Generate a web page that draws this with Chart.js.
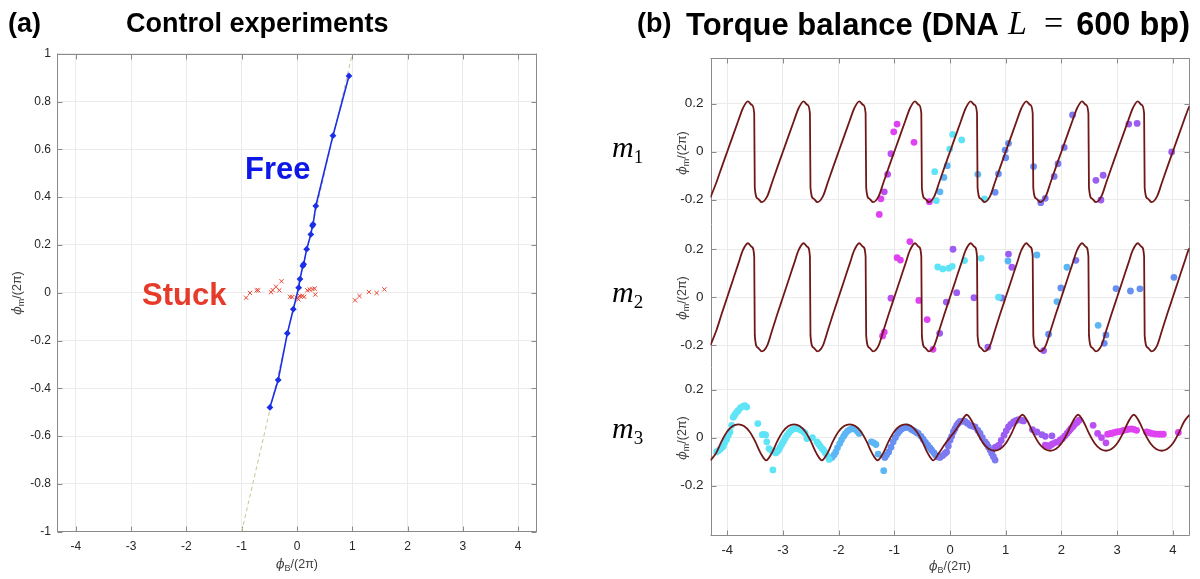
<!DOCTYPE html>
<html>
<head>
<meta charset="utf-8">
<script src="https://cdn.jsdelivr.net/npm/chart.js@4/dist/chart.umd.min.js"></script>
<style>
html, body { margin: 0; padding: 0; background: #fff; }
#fig { position: relative; width: 1200px; height: 579px; overflow: hidden; font-family: 'Liberation Sans', Arial, sans-serif; }
canvas { position: absolute; top: 0; }
.t { position: absolute; white-space: nowrap; line-height: 1; }
.title { font-weight: bold; font-size: 27px; color: #000; }
.big { font-size: 31px; }
.ax { font-size: 12.5px; color: #404040; }
.ax i { font-family: 'DejaVu Serif', serif; }
.ax sub { font-size: 9px; vertical-align: -3px; }
.rot { transform: translate(-50%, -50%) rotate(-90deg); }
.cx { transform: translate(-50%, -50%); }
.m { font-family: 'Liberation Serif', serif; font-size: 30px; font-style: italic; }
.m sub { font-style: normal; font-size: 19px; vertical-align: -6px; }
.tex { font-family: 'Liberation Serif', serif; font-weight: normal; font-size: 34px; color: #000; }
</style>
</head>
<body>
<div id="fig">
  <canvas id="left" width="600" height="579" style="left:0"></canvas>
  <canvas id="m1" width="600" height="579" style="left:600px"></canvas>
  <canvas id="m2" width="600" height="579" style="left:600px"></canvas>
  <canvas id="m3" width="600" height="579" style="left:600px"></canvas>

  <div class="t title" style="left:8px;top:10px">(a)</div>
  <div class="t title" style="left:126px;top:10px">Control experiments</div>
  <div class="t title" style="left:637px;top:10px">(b)</div>
  <div class="t title big" style="left:686px;top:9px">Torque balance (DNA</div>
  <div class="t tex" style="left:1008px;top:6px;font-style:italic">L</div>
  <div class="t tex" style="left:1044px;top:6px">=</div>
  <div class="t title big" style="right:10px;top:9px;font-size:32.5px;top:8px">600 bp)</div>

  <div class="t" style="left:245px;top:153px;font-weight:bold;font-size:31px;color:#0c17e8">Free</div>
  <div class="t" style="left:142px;top:279px;font-weight:bold;font-size:31px;color:#e63b2b">Stuck</div>

  <div class="t ax rot" style="left:18px;top:293px"><i>ϕ</i><sub>m</sub>/(2π)</div>
  <div class="t ax cx" style="left:297px;top:565px"><i>ϕ</i><sub>B</sub>/(2π)</div>
  <div class="t ax rot" style="left:683px;top:153px"><i>ϕ</i><sub>m</sub>/(2π)</div>
  <div class="t ax rot" style="left:683px;top:298px"><i>ϕ</i><sub>m</sub>/(2π)</div>
  <div class="t ax rot" style="left:683px;top:438px"><i>ϕ</i><sub>m</sub>/(2π)</div>
  <div class="t ax cx" style="left:950px;top:567px"><i>ϕ</i><sub>B</sub>/(2π)</div>

  <div class="t m" style="left:612px;top:132px">m<sub>1</sub></div>
  <div class="t m" style="left:612px;top:277px">m<sub>2</sub></div>
  <div class="t m" style="left:612px;top:413px">m<sub>3</sub></div>
</div>
<script>
// ---------- panel (a): control experiments ----------
const leftXTicks = [-4, -3, -2, -1, 0, 1, 2, 3, 4];
const leftXLabels = ['-4', '-3', '-2', '-1', '0', '1', '2', '3', '4'];
const leftYTicks = [-1, -0.8, -0.6, -0.4, -0.2, 0, 0.2, 0.4, 0.6, 0.8, 1];
const leftYLabels = ['-1', '-0.8', '-0.6', '-0.4', '-0.2', '0', '0.2', '0.4', '0.6', '0.8', '1'];

const freePts = [[-0.49, -0.48], [-0.34, -0.365], [-0.175, -0.17], [-0.067, -0.069], [0.03, 0.021],
  [0.054, 0.057], [0.105, 0.112], [0.12, 0.119], [0.175, 0.182], [0.25, 0.244], [0.28, 0.28],
  [0.29, 0.286], [0.34, 0.363], [0.65, 0.657], [0.94, 0.907]];
const stuckPts = [[-0.92, -0.021], [-0.85, -0.001], [-0.73, 0.010], [-0.70, 0.010], [-0.47, 0.002],
  [-0.44, 0.011], [-0.38, 0.025], [-0.32, 0.010], [-0.28, 0.048], [-0.126, -0.017], [-0.085, -0.018],
  [0, -0.021], [0.024, -0.028], [0.054, -0.014], [0.096, -0.014], [0.13, -0.017], [0.186, 0.010],
  [0.23, 0.013], [0.28, 0.015], [0.32, 0.017], [0.33, -0.008], [1.05, -0.032], [1.13, -0.014],
  [1.30, 0.003], [1.44, -0.001], [1.58, 0.014]];
const guidePts = [[-1, -1], [1, 1]];

// ---------- panel (b): torque balance ----------
const rightXTicks = [-4, -3, -2, -1, 0, 1, 2, 3, 4];
const rightXLabels = ['-4', '-3', '-2', '-1', '0', '1', '2', '3', '4'];
const subYTicks = [-0.2, 0, 0.2];
const subYLabels = ['-0.2', '0', '0.2'];

// model curves for m1 and m2 (same x positions)
const curveX = [
  -4.30, -4.19, -4.10, -4.00, -3.90, -3.80, -3.72, -3.63, -3.56, -3.515,
  -3.505, -3.45, -3.38, -3.28, -3.19, -3.10, -3.00, -2.90, -2.80, -2.72, -2.63, -2.56, -2.515,
  -2.505, -2.45, -2.38, -2.28, -2.19, -2.10, -2.00, -1.90, -1.80, -1.72, -1.63, -1.56, -1.515,
  -1.505, -1.45, -1.38, -1.28, -1.19, -1.10, -1.00, -0.90, -0.80, -0.72, -0.63, -0.56, -0.515,
  -0.505, -0.45, -0.38, -0.28, -0.19, -0.10, 0.00, 0.10, 0.20, 0.28, 0.37, 0.44, 0.485,
  0.495, 0.55, 0.62, 0.72, 0.81, 0.90, 1.00, 1.10, 1.20, 1.28, 1.37, 1.44, 1.485,
  1.495, 1.55, 1.62, 1.72, 1.81, 1.90, 2.00, 2.10, 2.20, 2.28, 2.37, 2.44, 2.485,
  2.495, 2.55, 2.62, 2.72, 2.81, 2.90, 3.00, 3.10, 3.20, 3.28, 3.37, 3.44, 3.485,
  3.495, 3.55, 3.62, 3.72, 3.81, 3.90, 4.00, 4.10, 4.20, 4.28, 4.30];
const m1Curve = [
  -0.19, -0.125, -0.065, 0, 0.065, 0.13, 0.18, 0.21, 0.195, 0.16,
  -0.15, -0.195, -0.21, -0.185, -0.125, -0.065, 0, 0.065, 0.13, 0.18, 0.21, 0.195, 0.16,
  -0.15, -0.195, -0.21, -0.185, -0.125, -0.065, 0, 0.065, 0.13, 0.18, 0.21, 0.195, 0.16,
  -0.15, -0.195, -0.21, -0.185, -0.125, -0.065, 0, 0.065, 0.13, 0.18, 0.21, 0.195, 0.16,
  -0.15, -0.195, -0.21, -0.185, -0.125, -0.065, 0, 0.065, 0.13, 0.18, 0.21, 0.195, 0.16,
  -0.15, -0.195, -0.21, -0.185, -0.125, -0.065, 0, 0.065, 0.13, 0.18, 0.21, 0.195, 0.16,
  -0.15, -0.195, -0.21, -0.185, -0.125, -0.065, 0, 0.065, 0.13, 0.18, 0.21, 0.195, 0.16,
  -0.15, -0.195, -0.21, -0.185, -0.125, -0.065, 0, 0.065, 0.13, 0.18, 0.21, 0.195, 0.16,
  -0.15, -0.195, -0.21, -0.185, -0.125, -0.065, 0, 0.065, 0.13, 0.18, 0.19];
const m2Curve = [
  -0.20, -0.135, -0.07, 0, 0.07, 0.14, 0.195, 0.225, 0.21, 0.17,
  -0.16, -0.21, -0.225, -0.20, -0.135, -0.07, 0, 0.07, 0.14, 0.195, 0.225, 0.21, 0.17,
  -0.16, -0.21, -0.225, -0.20, -0.135, -0.07, 0, 0.07, 0.14, 0.195, 0.225, 0.21, 0.17,
  -0.16, -0.21, -0.225, -0.20, -0.135, -0.07, 0, 0.07, 0.14, 0.195, 0.225, 0.21, 0.17,
  -0.16, -0.21, -0.225, -0.20, -0.135, -0.07, 0, 0.07, 0.14, 0.195, 0.225, 0.21, 0.17,
  -0.16, -0.21, -0.225, -0.20, -0.135, -0.07, 0, 0.07, 0.14, 0.195, 0.225, 0.21, 0.17,
  -0.16, -0.21, -0.225, -0.20, -0.135, -0.07, 0, 0.07, 0.14, 0.195, 0.225, 0.21, 0.17,
  -0.16, -0.21, -0.225, -0.20, -0.135, -0.07, 0, 0.07, 0.14, 0.195, 0.225, 0.21, 0.17,
  -0.16, -0.21, -0.225, -0.20, -0.135, -0.07, 0, 0.07, 0.14, 0.195, 0.205];

// model curve for m3
const m3CurveX = [
  -4.3, -4.2, -4.1, -4.0, -3.9, -3.8, -3.7, -3.6, -3.5, -3.4,
  -3.3, -3.2, -3.1, -3.0, -2.9, -2.8, -2.7, -2.6, -2.5, -2.4,
  -2.3, -2.2, -2.1, -2.0, -1.9, -1.8, -1.7, -1.6, -1.5, -1.4,
  -1.3, -1.2, -1.1, -1.0, -0.9, -0.8, -0.7, -0.6, -0.5, -0.4,
  -0.3, -0.2, -0.1, 0.0, 0.1, 0.2, 0.3,
  0.4, 0.5, 0.6, 0.7, 0.8, 0.9, 1.0, 1.1, 1.2, 1.3,
  1.4, 1.5, 1.6, 1.7, 1.8, 1.9, 2.0, 2.1, 2.2, 2.3,
  2.4, 2.5, 2.6, 2.7, 2.8, 2.9, 3.0, 3.1, 3.2, 3.3,
  3.4, 3.5, 3.6, 3.7, 3.8, 3.9, 4.0, 4.1, 4.2, 4.3];
const m3Curve = [
  -0.095, -0.065, -0.015, 0.025, 0.048, 0.055, 0.048, 0.025, -0.015, -0.065,
  -0.095, -0.065, -0.015, 0.025, 0.048, 0.055, 0.048, 0.025, -0.015, -0.065,
  -0.095, -0.065, -0.015, 0.025, 0.048, 0.055, 0.048, 0.025, -0.015, -0.065,
  -0.095, -0.065, -0.015, 0.025, 0.048, 0.055, 0.048, 0.025, -0.015, -0.065,
  -0.095, -0.065, -0.03, 0.0, 0.03, 0.065, 0.095,
  0.065, 0.015, -0.025, -0.048, -0.055, -0.048, -0.025, 0.015, 0.065, 0.095,
  0.065, 0.015, -0.025, -0.048, -0.055, -0.048, -0.025, 0.015, 0.065, 0.095,
  0.065, 0.015, -0.025, -0.048, -0.055, -0.048, -0.025, 0.015, 0.065, 0.095,
  0.065, 0.015, -0.025, -0.048, -0.055, -0.048, -0.025, 0.015, 0.065, 0.095];

// measured points, grouped by marker colour (cyan -> magenta)
const m1Cyan = [[-0.275, -0.083], [-0.245, -0.204], [-0.006, 0.011], [0.048, 0.072], [0.21, 0.049], [0.62, -0.196]];
const m1Sky = [[-0.18, -0.167], [-0.11, -0.107], [-0.05, -0.058], [0.50, -0.094]];
const m1Blue = [[0.81, -0.169], [0.87, -0.092], [1.0, -0.025], [0.99, 0.007], [1.05, 0.035], [1.50, -0.062]];
const m1Indigo = [[1.63, -0.212], [1.71, -0.194], [1.87, -0.103], [1.94, -0.05], [2.05, 0.018], [2.20, 0.153]];
const m1Violet = [[2.62, -0.119], [2.75, -0.098], [2.71, -0.201], [3.21, 0.115], [3.36, 0.118], [3.98, -0.001]];
const m1Orchid = [[-1.18, -0.167], [-1.12, -0.094], [-1.06, -0.008]];
const m1Magenta = [[-1.27, -0.261], [-1.24, -0.196], [-1.01, 0.083], [-0.95, 0.115], [-0.646, 0.039], [-0.37, -0.208]];

const m2Cyan = [[-0.22, 0.126], [-0.13, 0.118], [-0.02, 0.121], [0.04, 0.129], [0.26, 0.153], [0.56, 0.162], [0.87, 0.0]];
const m2Sky = [[1.04, 0.151], [1.56, 0.176], [1.92, -0.018], [2.10, 0.125], [2.66, -0.117]];
const m2Blue = [[1.77, -0.154], [1.99, 0.039], [2.77, -0.192], [2.80, -0.157], [2.98, 0.036], [3.24, 0.026], [3.41, 0.035], [4.02, 0.083]];
const m2Indigo = [[0.93, -0.003], [2.26, 0.154]];
const m2Violet = [[-0.185, -0.15], [-0.066, -0.02], [0.054, 0.2], [0.12, 0.019], [0.43, -0.002], [0.68, -0.208], [1.05, 0.18], [1.11, 0.125], [1.68, -0.222]];
const m2Orchid = [[-1.06, -0.004]];
const m2Magenta = [[-1.21, -0.161], [-1.18, -0.145], [-0.95, 0.165], [-0.89, 0.155], [-0.72, 0.232], [-0.56, -0.013], [-0.41, -0.093], [-0.305, -0.217]];

const m3Cyan = [[-4.19, -0.06], [-4.16, -0.055], [-4.13, -0.05], [-4.10, -0.043], [-4.07, -0.036], [-4.04, -0.02],
  [-4.01, -0.008], [-3.98, 0.008], [-3.95, 0.023], [-3.92, 0.051], [-3.89, 0.085], [-3.87, 0.092], [-3.85, 0.099],
  [-3.82, 0.108], [-3.80, 0.113], [-3.76, 0.124], [-3.71, 0.131], [-3.68, 0.133], [-3.65, 0.127],
  [-3.45, 0.058], [-3.37, 0.012], [-3.34, 0.013], [-3.31, 0.011], [-3.29, -0.018], [-3.25, -0.046], [-3.20, -0.055],
  [-3.18, -0.135], [-3.13, -0.064], [-3.10, -0.058], [-3.08, -0.053], [-3.05, -0.04], [-3.02, -0.028], [-2.99, -0.016],
  [-2.96, -0.004], [-2.93, 0.008], [-2.90, 0.017], [-2.87, 0.026], [-2.83, 0.033], [-2.79, 0.037], [-2.75, 0.039],
  [-2.71, 0.035], [-2.67, 0.030], [-2.63, 0.024], [-2.60, 0.017], [-2.57, -0.004], [-2.47, 0.0],
  [-2.39, -0.018], [-2.36, -0.027], [-2.33, -0.036], [-2.30, -0.045], [-2.27, -0.053], [-2.24, -0.063],
  [-2.21, -0.073], [-2.17, -0.091]];
const m3Sky = [[-2.12, -0.083], [-2.08, -0.072], [-2.05, -0.06], [-2.02, -0.043], [-1.98, -0.025], [-1.95, -0.01],
  [-1.91, 0.005], [-1.88, 0.016], [-1.84, 0.027], [-1.80, 0.033], [-1.76, 0.037], [-1.72, 0.036], [-1.69, 0.033],
  [-1.66, 0.025], [-1.63, 0.017], [-1.41, -0.018], [-1.37, -0.022], [-1.33, -0.029], [-1.29, -0.069], [-1.19, -0.138]];
const m3Blue = [[-1.17, -0.083], [-1.14, -0.073], [-1.10, -0.06], [-1.06, -0.04], [-1.02, -0.018], [-0.98, 0.0],
  [-0.94, 0.017], [-0.90, 0.028], [-0.86, 0.037], [-0.82, 0.041], [-0.77, 0.044], [-0.73, 0.04], [-0.69, 0.033],
  [-0.65, 0.028], [-0.61, 0.022], [-0.57, 0.017], [-0.52, 0.005], [-0.48, -0.008], [-0.44, -0.02], [-0.40, -0.032],
  [-0.36, -0.043], [-0.33, -0.053], [-0.29, -0.063], [-0.26, -0.073]];
const m3Indigo = [[-0.22, -0.08], [-0.18, -0.083], [-0.13, -0.075], [-0.09, -0.066], [-0.06, -0.06], [-0.03, -0.035],
  [0.0, -0.011], [0.03, 0.005], [0.06, 0.023], [0.09, 0.037], [0.12, 0.051], [0.15, 0.06], [0.18, 0.067], [0.22, 0.068],
  [0.27, 0.067], [0.31, 0.06], [0.36, 0.051], [0.40, 0.048], [0.45, 0.044], [0.50, 0.03], [0.54, 0.017], [0.58, 0.0],
  [0.63, -0.018], [0.66, -0.028], [0.69, -0.039], [0.72, -0.052], [0.75, -0.066], [0.78, -0.08], [0.81, -0.094]];
const m3Violet = [[0.81, -0.041], [0.85, -0.037], [0.88, -0.032], [0.92, -0.012], [0.97, 0.01], [1.01, 0.028],
  [1.05, 0.044], [1.09, 0.055], [1.14, 0.065], [1.18, 0.07], [1.23, 0.074], [1.28, 0.072], [1.32, 0.069],
  [1.48, 0.033], [1.56, 0.023], [1.65, 0.012], [1.71, 0.005], [1.83, 0.007]];
const m3Orchid = [[1.71, -0.032], [1.75, -0.035], [1.78, -0.036], [1.82, -0.03], [1.85, -0.025], [1.90, -0.02],
  [1.94, -0.018], [1.98, -0.01], [2.02, -0.004], [2.06, 0.006], [2.10, 0.017], [2.14, 0.028], [2.17, 0.037],
  [2.21, 0.046], [2.24, 0.055], [2.28, 0.063], [2.32, 0.072], [2.57, 0.051], [2.65, 0.017], [2.72, 0.0], [2.80, -0.022]];
const m3Magenta = [[2.83, 0.014], [2.87, 0.016], [2.90, 0.017], [2.94, 0.02], [2.99, 0.023], [3.03, 0.025],
  [3.08, 0.027], [3.12, 0.03], [3.17, 0.033], [3.21, 0.035], [3.26, 0.036], [3.30, 0.034], [3.35, 0.030],
  [3.53, 0.023], [3.58, 0.02], [3.62, 0.017], [3.68, 0.015], [3.74, 0.014], [3.79, 0.014], [3.83, 0.014], [4.10, 0.021]];

const colors = {
  cyan: '#5fe4f7', sky: '#5cb6f4', blue: '#6690f2', indigo: '#7d7af1',
  violet: '#9c5ef2', orchid: '#bd4ff2', magenta: '#df42f1'
};

Chart.defaults.font.family = "'Liberation Sans', Arial, sans-serif";
Chart.defaults.color = '#262626';

const toXY = arr => arr.map(p => ({ x: p[0], y: p[1] }));
const zipXY = (xs, ys) => xs.map((x, i) => ({ x: x, y: ys[i] }));

// box around the axes with inward tick marks, like the original figure
const boxPlugin = {
  id: 'box',
  beforeDatasetsDraw(chart, args, o) {
    const { ctx, chartArea: a } = chart;
    const sx = chart.scales.x, sy = chart.scales.y;
    const L = 5;
    const l = Math.round(a.left) + 0.5, r = Math.round(a.right) - 0.5;
    const t = Math.round(a.top) + 0.5, b = Math.round(a.bottom) - 0.5;
    ctx.save();
    ctx.strokeStyle = '#8a8a8a';
    ctx.lineWidth = 1;
    ctx.beginPath();
    ctx.moveTo(l, a.top); ctx.lineTo(l, a.bottom);
    ctx.moveTo(r, a.top); ctx.lineTo(r, a.bottom);
    if (o.top) { ctx.moveTo(a.left, t); ctx.lineTo(a.right, t); }
    if (o.bottom) { ctx.moveTo(a.left, b); ctx.lineTo(a.right, b); }
    sy.ticks.forEach(tk => {
      const py = Math.round(sy.getPixelForValue(tk.value)) + 0.5;
      ctx.moveTo(l, py); ctx.lineTo(l + L, py);
      ctx.moveTo(r, py); ctx.lineTo(r - L, py);
    });
    sx.ticks.forEach(tk => {
      const px = Math.round(sx.getPixelForValue(tk.value)) + 0.5;
      if (o.top) { ctx.moveTo(px, t); ctx.lineTo(px, t + L); }
      if (o.bottom) { ctx.moveTo(px, b); ctx.lineTo(px, b - L); }
    });
    ctx.stroke();
    ctx.restore();
  }
};

function axis(min, max, ticks, labels, o) {
  return {
    type: 'linear', min: min, max: max,
    afterBuildTicks: s => { s.ticks = ticks.map(v => ({ value: v })); },
    afterFit: s => {
      if (o.w !== undefined) s.width = o.w;
      if (o.h !== undefined) s.height = o.h;
    },
    grid: { color: '#ebebeb', lineWidth: 1, drawTicks: false },
    border: { display: false },
    ticks: {
      display: o.show !== false, padding: o.pad, autoSkip: false, maxRotation: 0,
      font: { size: o.fs }, color: '#262626',
      callback: (v, i) => labels[i]
    }
  };
}

// panel (a)
new Chart(document.getElementById('left'), {
  type: 'scatter',
  data: {
    datasets: [
      { data: toXY(freePts), showLine: true, borderColor: '#1a2fe6', backgroundColor: '#1a2fe6',
        borderWidth: 1.6, pointStyle: 'rectRot', pointRadius: 3.4, pointBorderWidth: 0 },
      { data: toXY(stuckPts), pointStyle: 'crossRot', pointRadius: 3, borderColor: '#e8432f',
        pointBorderWidth: 1, backgroundColor: '#e8432f' },
      { data: toXY(guidePts), showLine: true, borderColor: '#cbc38f', borderWidth: 1,
        borderDash: [4, 3], pointRadius: 0 }
    ]
  },
  options: {
    responsive: false, animation: false, devicePixelRatio: 1,
    layout: { padding: { left: 0, right: 63, top: 53.7, bottom: 0 } },
    plugins: { legend: { display: false }, tooltip: { enabled: false }, box: { top: true, bottom: true } },
    scales: {
      x: axis(-4.34, 4.34, leftXTicks, leftXLabels, { h: 47.3, pad: 8, fs: 12 }),
      y: axis(-1, 1, leftYTicks, leftYLabels, { w: 57, pad: 6, fs: 12 })
    }
  },
  plugins: [boxPlugin]
});

// panel (b): three stacked subplots sharing the x range
function subplot(id, c) {
  const groups = ['cyan', 'sky', 'blue', 'indigo', 'violet', 'orchid', 'magenta'];
  const dots = groups.map(g => ({
    data: toXY(c.pts[g]), backgroundColor: colors[g], borderWidth: 0,
    pointRadius: 3.4, pointBorderWidth: 0
  }));
  return new Chart(document.getElementById(id), {
    type: 'scatter',
    data: {
      datasets: [{ data: zipXY(c.cx, c.cy), showLine: true, borderColor: '#701818', borderWidth: 1.8,
        pointRadius: 0, cubicInterpolationMode: 'monotone' }].concat(dots)
    },
    options: {
      responsive: false, animation: false, devicePixelRatio: 1,
      layout: { padding: { left: 0, right: 10.5, top: c.top, bottom: c.bottom } },
      plugins: { legend: { display: false }, tooltip: { enabled: false }, box: { top: c.boxTop, bottom: c.boxBottom } },
      scales: {
        x: axis(-4.3, 4.3, rightXTicks, rightXLabels, { h: c.xh, show: c.showX, pad: 7, fs: 13 }),
        y: axis(c.min, c.max, subYTicks, subYLabels, { w: 110.5, pad: 7, fs: 13.5 })
      }
    },
    plugins: [boxPlugin]
  });
}

subplot('m1', { cx: curveX, cy: m1Curve, top: 58.3, bottom: 354.5, xh: 0, showX: false,
  boxTop: true, boxBottom: false, min: -0.303, max: 0.389,
  pts: { cyan: m1Cyan, sky: m1Sky, blue: m1Blue, indigo: m1Indigo, violet: m1Violet, orchid: m1Orchid, magenta: m1Magenta } });
subplot('m2', { cx: curveX, cy: m2Curve, top: 224.5, bottom: 211.5, xh: 0, showX: false,
  boxTop: false, boxBottom: false, min: -0.2925, max: 0.303,
  pts: { cyan: m2Cyan, sky: m2Sky, blue: m2Blue, indigo: m2Indigo, violet: m2Violet, orchid: m2Orchid, magenta: m2Magenta } });
subplot('m3', { cx: m3CurveX, cy: m3Curve, top: 367.5, bottom: 0, xh: 43.5, showX: true,
  boxTop: false, boxBottom: true, min: -0.408, max: 0.2917,
  pts: { cyan: m3Cyan, sky: m3Sky, blue: m3Blue, indigo: m3Indigo, violet: m3Violet, orchid: m3Orchid, magenta: m3Magenta } });
</script>
</body>
</html>
